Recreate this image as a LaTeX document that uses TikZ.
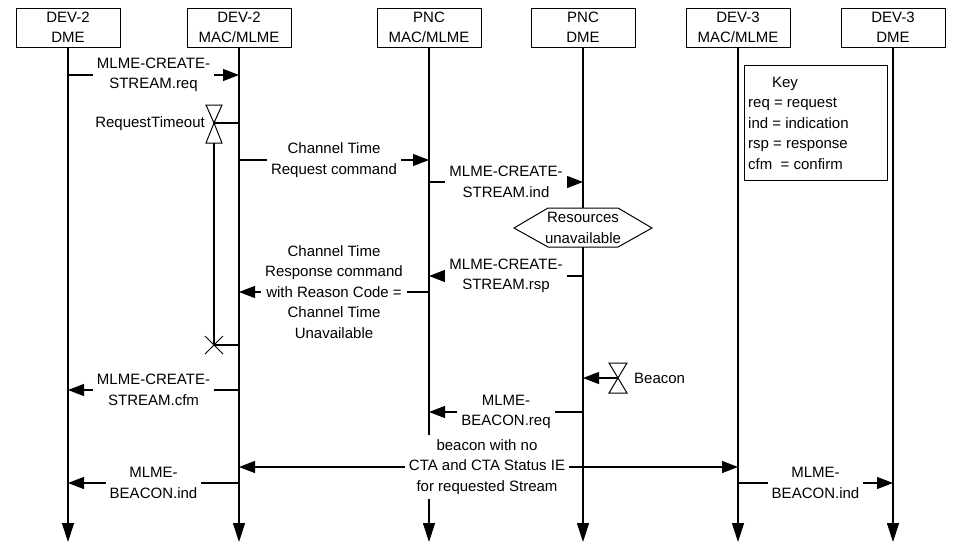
\documentclass[tikz,border=0pt]{standalone}
\usepackage{fontspec}
\setmainfont{Liberation Sans}
\usetikzlibrary{arrows.meta}
\begin{document}
\begin{tikzpicture}[x=1pt,y=-1pt,
  every node/.style={font=\fontsize{15}{20.5}\selectfont, align=center, inner sep=0pt},
  actor/.style={draw, line width=1pt, minimum width=104pt, minimum height=39pt, fill=white},
  life/.style={line width=1.2pt, -{Triangle[length=19pt,width=12pt]}},
  msg/.style={line width=1.2pt, -{Triangle[length=16pt,width=12pt]}},
  bimsg/.style={line width=1.2pt, {Triangle[length=16pt,width=12pt]}-{Triangle[length=16pt,width=12pt]}},
  lbl/.style={fill=white, inner xsep=4pt, inner ysep=2pt},
  plain/.style={line width=1.2pt},
  glass/.style={line width=1pt, fill=white},
  keyline/.style={anchor=base west}]
\useasboundingbox (0,0) rectangle (953,546);

% actors
\node[actor] (a1) at (68,27.5) {DEV-2\\DME};
\node[actor] (a2) at (239,27.5) {DEV-2\\MAC/MLME};
\node[actor] (a3) at (429,27.5) {PNC\\MAC/MLME};
\node[actor] (a4) at (583,27.5) {PNC\\DME};
\node[actor] (a5) at (738,27.5) {DEV-3\\MAC/MLME};
\node[actor] (a6) at (893,27.5) {DEV-3\\DME};

% lifelines
\coordinate (e1) at (68,542);
\coordinate (e2) at (239,542);
\coordinate (e3) at (429,542);
\coordinate (e4) at (583,542);
\coordinate (e5) at (738,542);
\coordinate (e6) at (893,542);
\foreach \i in {1,...,6} { \draw[life] (a\i) -- (e\i); }

% key
\node[draw, line width=1pt, minimum width=143pt, minimum height=115pt] (key) at (815.5,122.5) {};
\node[anchor=base] (keyt) at (785,87) {Key};
\node[keyline] (k1) at (748,107.5) {req = request};
\node[keyline] (k2) at (748,128) {ind = indication};
\node[keyline] (k3) at (748,148.5) {rsp = response};
\node[keyline] (k4) at (748,169) {cfm\ \ = confirm};

% m1
\coordinate (m1a) at (68,75); \coordinate (m1b) at (239,75);
\draw[msg] (m1a) -- (m1b) node[lbl, midway] (l1) {MLME-CREATE-\\STREAM.req};

% RequestTimeout timer
\coordinate (t1) at (214,123); \coordinate (t1r) at (239,123);
\coordinate (t1b) at (214,143); \coordinate (x1) at (214,345); \coordinate (x1r) at (239,345);
\draw[plain] (t1) -- (t1r);
\draw[plain] (t1b) -- (x1);
\draw[plain] (x1) -- (x1r);
\draw[glass] (t1) -- ++(-8,-18) -- ++(16,0) -- cycle;
\draw[glass] (t1) -- ++(-8,20) -- ++(16,0) -- cycle;
\draw[line width=1pt] (x1) ++(-9,-9) -- ++(18,18);
\draw[line width=1pt] (x1) ++(-9,9) -- ++(18,-18);
\node[anchor=east] (tl1) at (205,124) {RequestTimeout};

% m2
\coordinate (m2a) at (239,160); \coordinate (m2b) at (429,160);
\draw[msg] (m2a) -- (m2b) node[lbl, midway] (l2) {Channel Time\\Request command};

% m3
\coordinate (m3a) at (429,182); \coordinate (m3b) at (583,182);
\draw[msg] (m3a) -- (m3b) node[lbl, midway] (l3) {MLME-CREATE-\\STREAM.ind};

% resources hexagon
\coordinate (rc) at (583,228);
\draw[glass] ([shift={(-69,0)}]rc) -- ([shift={(-35,-20)}]rc) -- ([shift={(35,-20)}]rc)
  -- ([shift={(69,0)}]rc) -- ([shift={(35,19)}]rc) -- ([shift={(-35,19)}]rc) -- cycle;
\node (res) at (rc) {Resources\\unavailable};

% m4
\coordinate (m4a) at (583,276); \coordinate (m4b) at (429,276);
\draw[msg] (m4a) -- (m4b) node[lbl, midway] (l4) {MLME-CREATE-\\STREAM.rsp};

% m5
\coordinate (m5a) at (429,292); \coordinate (m5b) at (239,292);
\draw[msg] (m5a) -- (m5b) node[lbl, midway] (l5) {Channel Time\\Response command\\with Reason Code =\\Channel Time\\Unavailable};

% Beacon timer
\coordinate (t2) at (618,378); \coordinate (t2l) at (583,378);
\draw[msg] (t2) -- (t2l);
\draw[glass] (t2) -- ++(-9,-15) -- ++(18,0) -- cycle;
\draw[glass] (t2) -- ++(-9,15) -- ++(18,0) -- cycle;
\node[anchor=west] (tl2) at (634,378) {Beacon};

% m6
\coordinate (m6a) at (239,390); \coordinate (m6b) at (68,390);
\draw[msg] (m6a) -- (m6b) node[lbl, midway] (l6) {MLME-CREATE-\\STREAM.cfm};

% m7
\coordinate (m7a) at (583,412); \coordinate (m7b) at (429,412);
\draw[msg] (m7a) -- (m7b) node[lbl, midway] (l7) {MLME-\\BEACON.req};

% m8
\coordinate (m8a) at (239,467); \coordinate (m8b) at (738,467);
\draw[bimsg] (m8a) -- (m8b) node[lbl, inner ysep=5pt, pos=0.497] (l8) {beacon with no\\CTA and CTA Status IE\\for requested Stream};

% m9
\coordinate (m9a) at (239,483); \coordinate (m9b) at (68,483);
\draw[msg] (m9a) -- (m9b) node[lbl, midway] (l9) {MLME-\\BEACON.ind};

% m10
\coordinate (m10a) at (738,483); \coordinate (m10b) at (893,483);
\draw[msg] (m10a) -- (m10b) node[lbl, midway] (l10) {MLME-\\BEACON.ind};
\end{tikzpicture}
\end{document}
